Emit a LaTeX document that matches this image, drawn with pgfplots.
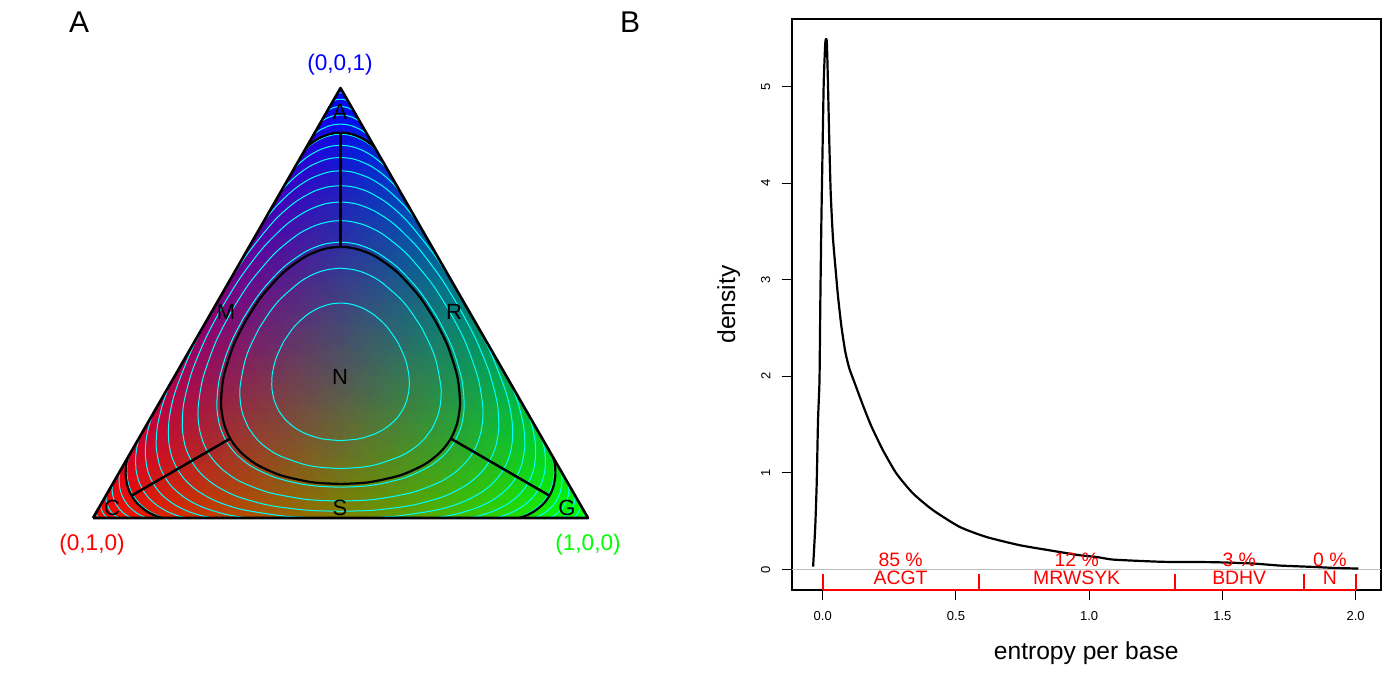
\documentclass[border=0pt]{standalone}
\usepackage{fontspec}
\setmainfont{Liberation Sans}
\usepackage{pgfplots}
\pgfplotsset{compat=1.18}
\usepackage{pgfplotstable}

\definecolor{ccyan}{RGB}{0,255,255}
\definecolor{rred}{RGB}{255,0,0}
\definecolor{rgreen}{RGB}{0,255,0}
\definecolor{rblue}{RGB}{0,0,255}
\definecolor{rgray}{RGB}{190,190,190}

% entropy contours (bits) in barycentric coordinates, one sixth of each level
% g = weight of right vertex, r = weight of left vertex, b = weight of top vertex
\pgfplotstableread{
g r b
0.013 0 0.987
0.00978 0.002 0.98822
0.00734 0.004 0.98866
0.0056 0.0056 0.9888
nan nan nan
0.0312 0 0.9688
0.02386 0.004 0.97214
0.01852 0.008 0.97348
0.013 0.013 0.974
nan nan nan
0.0533 0 0.9467
0.04115 0.006 0.95285
0.0325 0.012 0.9555
0.02537 0.018 0.95663
0.0216 0.0216 0.9568
nan nan nan
0.0794 0 0.9206
0.06716 0.005 0.92784
0.05817 0.01 0.93183
0.0439 0.02 0.9361
0.0313 0.0313 0.9374
nan nan nan
0.110 0 0.890
0.0982 0.004 0.8978
0.08528 0.01 0.90472
0.0686 0.02 0.9114
0.05524 0.03 0.91476
0.042 0.042 0.916
nan nan nan
0.1462 0 0.8538
0.12935 0.005 0.86565
0.1068 0.015 0.8782
0.08204 0.03 0.88796
0.0654 0.043 0.8916
0.0537 0.0537 0.8926
nan nan nan
0.1893 0 0.8107
0.16915 0.005 0.82585
0.1427 0.015 0.8423
0.1137 0.03 0.8563
0.09155 0.045 0.86345
0.07811 0.056 0.86589
0.0667 0.0667 0.8666
nan nan nan
0.2431 0 0.7569
0.218 0.005 0.777
0.1856 0.015 0.7994
0.1512 0.03 0.8188
0.11775 0.05 0.83225
0.09818 0.065 0.83682
0.0808 0.0808 0.8384
nan nan nan
0.3162 0 0.6838
0.2927 0.003 0.7043
0.2579 0.01 0.7321
0.2093 0.025 0.7657
0.16547 0.045 0.78953
0.12671 0.07 0.80329
0.1084 0.085 0.8066
0.0964 0.0964 0.8072
nan nan nan
0.5 0 0.5
0.4699 0.0002 0.5299
0.4396 0.001 0.5594
0.3803 0.005 0.6147
0.2901 0.02 0.6899
0.2272 0.04 0.7328
0.1763 0.065 0.7587
0.13995 0.09 0.77005
0.1136 0.1136 0.7728
nan nan nan
0.4922 0.0156 0.4922
0.4418 0.017 0.5412
0.4054 0.02 0.5746
0.339 0.03 0.631
0.2666 0.05 0.6834
0.2107 0.075 0.7143
0.1708 0.1 0.7292
0.1461 0.12 0.7339
0.1327 0.1327 0.7346
nan nan nan
0.4803 0.0394 0.4803
0.4354 0.041 0.5236
0.3971 0.045 0.5579
0.3232 0.06 0.6168
0.2546 0.085 0.6604
0.2093 0.11 0.6807
0.1754 0.135 0.6896
0.1543 0.1543 0.6914
nan nan nan
0.46425 0.0715 0.46425
0.4167 0.074 0.5093
0.3766 0.08 0.5434
0.3187 0.095 0.5863
0.2602 0.12 0.6198
0.2197 0.145 0.6353
0.1947 0.165 0.6403
0.1793 0.1793 0.6414
nan nan nan
0.4425 0.115 0.4425
0.3996 0.118 0.4824
0.363 0.125 0.512
0.3041 0.145 0.5509
0.2661 0.165 0.5689
0.2374 0.185 0.5776
0.2095 0.2095 0.581
nan nan nan
0.41 0.18 0.41
0.3714 0.184 0.4446
0.3344 0.195 0.4706
0.3027 0.21 0.4873
0.2727 0.23 0.4973
0.25 0.25 0.5
}\cyantab

\pgfplotstableread{
g r b
0.1403 0 0.8597
0.124 0.005 0.871
0.1019 0.015 0.8831
0.0777 0.03 0.8923
0.06256 0.042 0.89544
0.052 0.052 0.896
nan nan nan
0.46045 0.0791 0.46045
0.4214 0.081 0.4976
0.3902 0.085 0.5248
0.3274 0.1 0.5726
0.2671 0.125 0.6079
0.2262 0.15 0.6238
0.2007 0.17 0.6293
0.1848 0.1848 0.6304
}\blacktab

\pgfplotstableread{
g r b
0.052 0.052 0.896
0.1848 0.1848 0.6304
}\radialtab

\pgfplotstableread{
x y
-0.036 0.03
-0.028 0.44
-0.0225 0.89
-0.0175 1.55
-0.012 1.96
-0.009 2.75
-0.005 3.6
0.000 4.44
0.004 5.06
0.010 5.46
0.0155 5.46
0.020 5.0
0.025 4.40
0.030 3.9
0.038 3.45
0.047 3.15
0.057 2.84
0.070 2.52
0.085 2.25
0.100 2.08
0.120 1.93
0.151 1.70
0.183 1.48
0.226 1.235
0.2765 0.994
0.339 0.787
0.414 0.614
0.514 0.441
0.614 0.337
0.739 0.252
0.864 0.193
0.964 0.148
1.027 0.13
1.089 0.103
1.215 0.086
1.29 0.079
1.465 0.076
1.615 0.062
1.715 0.041
1.84 0.027
1.915 0.017
2.01 0.01
}\densitytab

\newcommand{\ternplot}[4]{\addplot[#1] table[x expr={93+495*(\thisrow{#3}+0.5*\thisrow{#4})}, y expr={182+430*\thisrow{#4}}] {#2};}
\newcommand{\ternall}[2]{%
\ternplot{#1}{#2}{g}{b}\ternplot{#1}{#2}{b}{g}\ternplot{#1}{#2}{g}{r}%
\ternplot{#1}{#2}{r}{g}\ternplot{#1}{#2}{r}{b}\ternplot{#1}{#2}{b}{r}}

\begin{document}
\begin{tikzpicture}
\path[use as bounding box] (0pt,0pt) rectangle (700pt,350pt);

% ---------------- Panel A ----------------
\begin{axis}[at={(0pt,0pt)}, anchor=south west, scale only axis,
  width=350pt, height=350pt, xmin=0, xmax=700, ymin=0, ymax=700,
  hide axis, clip=false, unbounded coords=jump]
\addplot[patch, patch type=triangle, shader=interp,
  mesh/color input=explicit, point meta=explicit symbolic]
  table[meta=c] {
x y c
93 182 rgb=1,0,0
588 182 rgb=0,1,0
340.5 612 rgb=0,0,1
};
\ternall{ccyan, line width=0.5pt, smooth, no markers}{\cyantab}
\ternall{black, line width=1.1pt, smooth, no markers}{\blacktab}
\ternall{black, line width=1.1pt, no markers}{\radialtab}
\addplot[black, line width=1.3pt, line join=round, no markers]
  coordinates {(93,182) (588,182) (340.5,612) (93,182)};
\node[font=\fontsize{11}{13}\selectfont] at (axis cs:340,588) {A};
\node[font=\fontsize{11}{13}\selectfont] at (axis cs:112,192) {C};
\node[font=\fontsize{11}{13}\selectfont] at (axis cs:567,192) {G};
\node[font=\fontsize{11}{13}\selectfont] at (axis cs:340,192) {S};
\node[font=\fontsize{11}{13}\selectfont] at (axis cs:226,388) {M};
\node[font=\fontsize{11}{13}\selectfont] at (axis cs:454,388) {R};
\node[font=\fontsize{11}{13}\selectfont] at (axis cs:340,323) {N};
\node[font=\fontsize{11.3}{13}\selectfont, text=rblue] at (axis cs:340,635) {(0,0,1)};
\node[font=\fontsize{11.3}{13}\selectfont, text=rred] at (axis cs:92,155) {(0,1,0)};
\node[font=\fontsize{11.3}{13}\selectfont, text=rgreen] at (axis cs:588,155) {(1,0,0)};
\end{axis}

% ---------------- Panel B ----------------
\begin{axis}[at={(395.85pt,54.85pt)}, anchor=south west, scale only axis,
  width=294.5pt, height=285.75pt,
  xmin=-0.1163, xmax=2.094, ymin=-0.215, ymax=5.70,
  axis line style={line width=1pt},
  tick align=outside, major tick length=5pt, tick pos=left,
  tick style={black, line width=0.5pt},
  xtick={0,0.5,1,1.5,2}, xticklabels={0.0,0.5,1.0,1.5,2.0},
  ytick={0,1,2,3,4,5},
  /pgf/number format/assume math mode=true,
  tick label style={font=\fontsize{6.5}{7.5}\selectfont},
  xticklabel style={anchor=center, yshift=-8pt},
  yticklabel style={anchor=center, xshift=-8pt, rotate=90},
  xlabel={entropy per base}, ylabel={density},
  label style={font=\fontsize{12.3}{14}\selectfont},
  xlabel style={at={(axis description cs:0.5,-0.110)}, anchor=center},
  ylabel style={at={(axis description cs:-0.107,0.5)}, anchor=center},
  clip=false]
\addplot[rgray, line width=0.6pt, no markers] coordinates {(-0.1163,0) (2.094,0)};
\addplot[black, line width=1.1pt, no markers, line join=round, smooth, tension=0.35] table[x=x, y=y] {\densitytab};
\addplot[rred, line width=1pt, no markers] coordinates {(0,-0.207) (2,-0.207)};
\addplot[rred, line width=1pt, no markers] coordinates {(0,-0.207) (0,-0.05)};
\addplot[rred, line width=1pt, no markers] coordinates {(0.585,-0.207) (0.585,-0.05)};
\addplot[rred, line width=1pt, no markers] coordinates {(1.321,-0.207) (1.321,-0.05)};
\addplot[rred, line width=1pt, no markers] coordinates {(1.805,-0.207) (1.805,-0.05)};
\addplot[rred, line width=1pt, no markers] coordinates {(2,-0.207) (2,-0.05)};
\node[text=rred, font=\fontsize{9.7}{11}\selectfont, anchor=base, inner sep=0pt] at (axis cs:0.2925,-0.155) {ACGT};
\node[text=rred, font=\fontsize{9.7}{11}\selectfont, anchor=base, inner sep=0pt] at (axis cs:0.953,-0.155) {MRWSYK};
\node[text=rred, font=\fontsize{9.7}{11}\selectfont, anchor=base, inner sep=0pt] at (axis cs:1.563,-0.155) {BDHV};
\node[text=rred, font=\fontsize{9.7}{11}\selectfont, anchor=base, inner sep=0pt] at (axis cs:1.903,-0.155) {N};
\node[text=rred, font=\fontsize{9.7}{11}\selectfont, anchor=base, inner sep=0pt] at (axis cs:0.2925,0.027) {85 \%};
\node[text=rred, font=\fontsize{9.7}{11}\selectfont, anchor=base, inner sep=0pt] at (axis cs:0.953,0.027) {12 \%};
\node[text=rred, font=\fontsize{9.7}{11}\selectfont, anchor=base, inner sep=0pt] at (axis cs:1.563,0.027) {3 \%};
\node[text=rred, font=\fontsize{9.7}{11}\selectfont, anchor=base, inner sep=0pt] at (axis cs:1.903,0.027) {0 \%};
\end{axis}

\node[font=\fontsize{15}{17}\selectfont] at (39.6pt,339.1pt) {A};
\node[font=\fontsize{15}{17}\selectfont] at (315pt,339.1pt) {B};
\end{tikzpicture}
\end{document}
